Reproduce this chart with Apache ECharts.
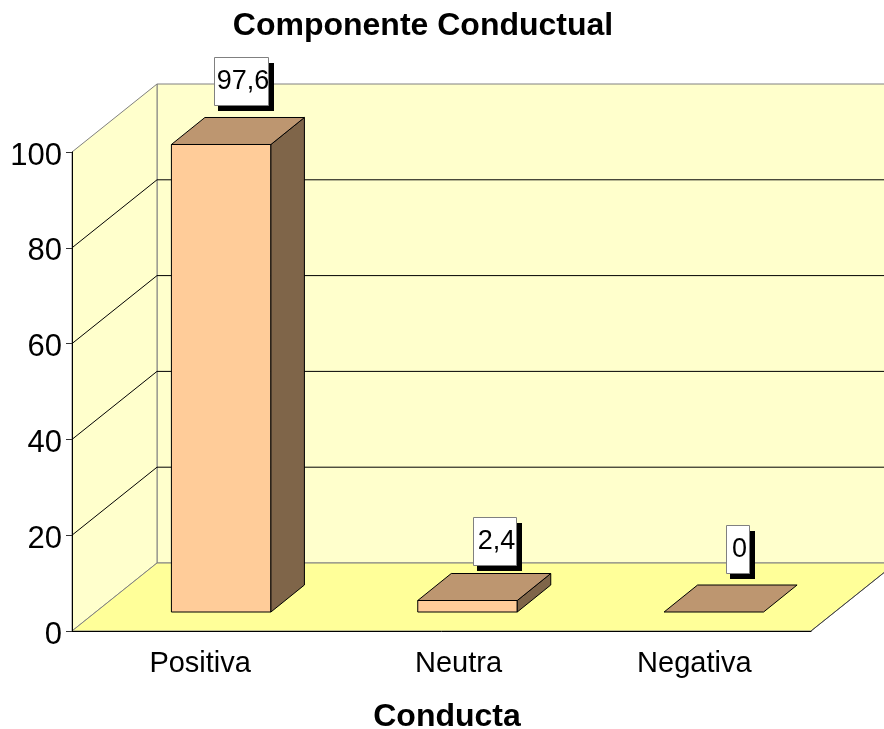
<!DOCTYPE html>
<html>
<head>
<meta charset="utf-8">
<style>
  html, body { margin: 0; padding: 0; background: #fff; }
  #chart { width: 884px; height: 729px; }
</style>
<script src="https://cdn.jsdelivr.net/npm/echarts@6/dist/echarts.min.js"></script>
</head>
<body>
<div id="chart"></div>
<script>
// Excel style 3D column chart, drawn as custom series on a plain cartesian grid.
const categories = ['Positiva', 'Neutra', 'Negativa'];
const values = [97.6, 2.4, 0];
const gridTicks = [20, 40, 60, 80];

const FONT = '"Liberation Sans", Arial, sans-serif';
// depth of the walls and of the bars, in pixels
const WALL_DX = 85, WALL_DY = -68;
const BAR_DX = 33.5, BAR_DY = -27;
const BAR_SHIFT_X = 26, BAR_SHIFT_Y = -19;
const BAR_WIDTH = 99.5;
// value boxes are placed by hand in the original, so each has its own nudge
const boxLeft = [43, 55, 62];
const boxBottom = [-39, -36, -39];
const boxWidth = [54, 43, 23];
const BOX_HEIGHT = 48;

const poly = (points, fill, stroke) => ({
  type: 'polygon',
  shape: { points },
  style: { fill, stroke, lineWidth: 1 },
  silent: true,
});
const line = (x1, y1, x2, y2, stroke) => ({
  type: 'line',
  shape: { x1, y1, x2, y2 },
  style: { stroke, lineWidth: 1 },
  silent: true,
});

function renderWalls(params, api) {
  const c = params.coordSys;
  const x0 = c.x, x1 = c.x + c.width, yTop = c.y, yBase = c.y + c.height;
  const bx0 = x0 + WALL_DX, bx1 = x1 + WALL_DX;
  const byTop = yTop + WALL_DY, byBase = yBase + WALL_DY;
  return {
    type: 'group',
    children: [
      poly([[bx0, byTop], [bx1, byTop], [bx1, byBase], [bx0, byBase]], '#FFFFCC', '#808080'),
      poly([[x0, yTop], [bx0, byTop], [bx0, byBase], [x0, yBase]], '#FFFFCC', '#808080'),
      poly([[x0, yBase], [bx0, byBase], [bx1, byBase], [x1, yBase]], '#FFFF99', '#808080'),
      line(x1, yBase, bx1, byBase, '#404040'),
    ],
  };
}

function renderGridline(params, api) {
  const c = params.coordSys;
  const y = api.coord([0, api.value(0)])[1];
  const x0 = c.x, bx0 = c.x + WALL_DX, bx1 = c.x + c.width + WALL_DX;
  return {
    type: 'group',
    children: [
      line(x0, y, bx0, y + WALL_DY, '#000'),
      line(bx0, y + WALL_DY, bx1, y + WALL_DY, '#000'),
    ],
  };
}

function barFront(api) {
  const top = api.coord([api.value(0), api.value(1)]);
  const base = api.coord([api.value(0), 0]);
  const left = top[0] - BAR_WIDTH / 2 + BAR_SHIFT_X;
  return { left, right: left + BAR_WIDTH, top: top[1] + BAR_SHIFT_Y, base: base[1] + BAR_SHIFT_Y };
}

function renderBar(params, api) {
  const { left, right, top, base } = barFront(api);
  const children = [];
  if (base - top > 0.5) {
    children.push(poly([[left, top], [right, top], [right, base], [left, base]], '#FFCC99', '#000'));
    children.push(poly([[right, top], [right + BAR_DX, top + BAR_DY], [right + BAR_DX, base + BAR_DY], [right, base]], '#7F6549', '#000'));
  }
  children.push(poly([[left, top], [left + BAR_DX, top + BAR_DY], [right + BAR_DX, top + BAR_DY], [right, top]], '#BD9670', '#000'));
  return { type: 'group', children };
}

function renderValueBox(params, api) {
  const i = params.dataIndex;
  const { left, top } = barFront(api);
  const x = Math.round(left + boxLeft[i]);
  const w = boxWidth[i];
  const y = Math.round(top + boxBottom[i]) - BOX_HEIGHT;
  return {
    type: 'group',
    children: [
      { type: 'rect', shape: { x: x + 4, y: y + 6, width: w + 2, height: BOX_HEIGHT }, style: { fill: '#000' }, silent: true },
      { type: 'rect', shape: { x: x + 0.5, y: y + 0.5, width: w, height: BOX_HEIGHT }, style: { fill: '#fff', stroke: '#808080', lineWidth: 1 }, silent: true },
      {
        type: 'text',
        silent: true,
        style: {
          x: x + w / 2 + 2,
          y: y + BOX_HEIGHT / 2 + 1,
          text: String(api.value(1)).replace('.', ','),
          fill: '#000',
          font: '27px ' + FONT,
          align: 'center',
          verticalAlign: 'middle',
        },
      },
    ],
  };
}

const barData = values.map((v, i) => [i, v]);

const chart = echarts.init(document.getElementById('chart'));
chart.setOption({
  animation: false,
  backgroundColor: '#fff',
  title: {
    text: 'Componente Conductual',
    left: 418,
    top: 5,
    textAlign: 'center',
    textStyle: { fontFamily: FONT, fontSize: 32, fontWeight: 'bold', color: '#000' },
  },
  grid: { left: 72, right: 73, top: 152, bottom: 98, outerBoundsMode: 'none' },
  xAxis: {
    type: 'category',
    z: 5,
    data: [
      { value: categories[0], textStyle: { padding: [0, 0, 0, 10] } },
      { value: categories[1], textStyle: { padding: [0, 0, 0, 34] } },
      { value: categories[2], textStyle: { padding: [0, 0, 0, 13] } },
    ],
    name: 'Conducta',
    nameLocation: 'middle',
    nameGap: 70,
    nameTextStyle: { fontFamily: FONT, fontSize: 32, fontWeight: 'bold', color: '#000', padding: [0, 0, 0, 11] },
    axisLine: { lineStyle: { color: '#000', width: 1 } },
    axisTick: { length: 7, lineStyle: { color: '#333' } },
    axisLabel: { fontFamily: FONT, fontSize: 29, color: '#000', margin: 18 },
    splitLine: { show: false },
  },
  yAxis: {
    type: 'value',
    min: 0,
    max: 100,
    interval: 20,
    z: 5,
    axisLine: { show: true, lineStyle: { color: '#000', width: 1 } },
    axisTick: { show: true, length: 6, lineStyle: { color: '#333' } },
    axisLabel: {
      margin: 10,
      formatter: '{n|{value}}',
      rich: { n: { fontFamily: FONT, fontSize: 31, color: '#000', padding: [8, 0, 0, 0] } },
    },
    splitLine: { show: false },
  },
  series: [
    { type: 'custom', z: 1, renderItem: renderWalls, data: [[0]], encode: { x: [], y: [] } },
    { type: 'custom', z: 2, renderItem: renderGridline, data: gridTicks.map((t) => [t]), encode: { x: [], y: 0 } },
    { type: 'custom', z: 3, renderItem: renderBar, data: barData, encode: { x: 0, y: 1 } },
    { type: 'custom', z: 4, renderItem: renderValueBox, data: barData, encode: { x: 0, y: 1 } },
  ],
});
</script>
</body>
</html>
